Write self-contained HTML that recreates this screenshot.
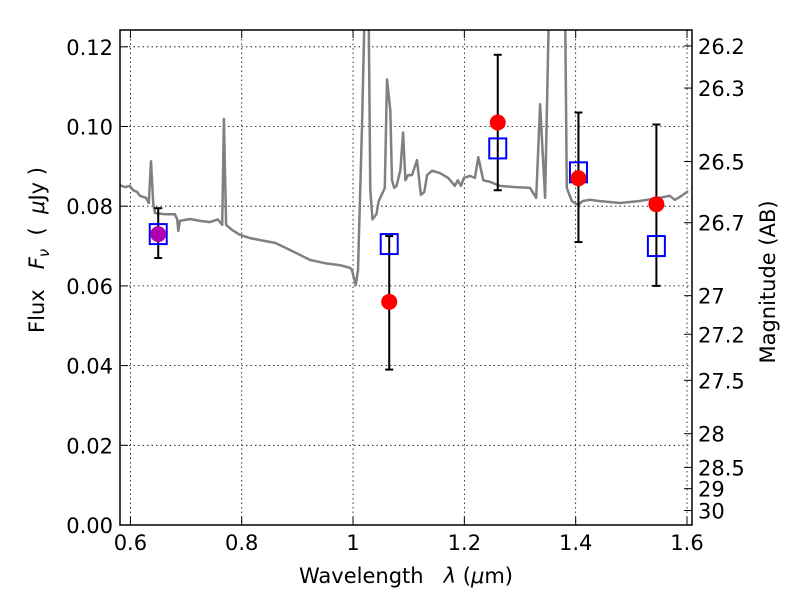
<!DOCTYPE html>
<html><head><meta charset="utf-8"><style>
body{margin:0;background:#fff;}
svg text{font-family:"DejaVu Sans","Liberation Sans",sans-serif;fill:#000;white-space:pre;}
</style></head><body>
<svg id="chart" width="800" height="600" xmlns="http://www.w3.org/2000/svg">
<rect width="800" height="600" fill="#fff"/>
<defs><clipPath id="pc"><rect x="120" y="30" width="572" height="495"/></clipPath></defs>
<g id="grid"></g>
<g id="spec" clip-path="url(#pc)"></g>
<g id="marks"></g>
<rect x="120" y="30" width="572" height="495" fill="none" stroke="#000" stroke-width="1.5"/>
<g id="axes"></g>
<text x="406" y="583" font-size="21" text-anchor="middle">Wavelength&#160;&#160;&#160;<tspan font-style="italic">λ</tspan> (<tspan font-style="italic">μ</tspan>m)</text>
<text transform="translate(44,250) rotate(-90)" font-size="21" text-anchor="middle">Flux&#160;&#160;&#160;<tspan font-style="italic">F</tspan><tspan font-style="italic" font-size="15" dy="5">ν</tspan><tspan dy="-5">&#160;&#160;(&#160;&#160;</tspan><tspan font-style="italic">μ</tspan>Jy&#160;)</text>
<text transform="translate(775,282) rotate(-90)" font-size="21" text-anchor="middle">Magnitude (AB)</text>
</svg>
<script>
const xTicks=[0.6,0.8,1.0,1.2,1.4,1.6];
const xTickLabels=["0.6","0.8","1","1.2","1.4","1.6"];
const yTicks=[0,0.02,0.04,0.06,0.08,0.10,0.12];
const yTickLabels=["0.00","0.02","0.04","0.06","0.08","0.10","0.12"];
const magTicks=[26.2,26.3,26.5,26.7,27,27.2,27.5,28,28.5,29,30];
const magTickLabels=["26.2","26.3","26.5","26.7","27","27.2","27.5","28","28.5","29","30"];
const specWave=[0.581,0.590,0.599,0.605,0.612,0.617,0.628,0.633,0.637,0.641,0.644,0.662,0.680,0.684,0.686,0.689,0.707,0.725,0.743,0.757,0.765,0.768,0.772,0.783,0.797,0.815,0.833,0.860,0.887,0.923,0.950,0.977,0.995,0.998,1.005,1.009,1.016,1.021,1.028,1.031,1.035,1.042,1.046,1.053,1.057,1.061,1.067,1.070,1.074,1.078,1.085,1.090,1.094,1.099,1.106,1.115,1.122,1.128,1.133,1.142,1.156,1.171,1.183,1.188,1.194,1.199,1.210,1.219,1.225,1.234,1.246,1.264,1.291,1.318,1.329,1.336,1.345,1.352,1.381,1.384,1.393,1.404,1.413,1.425,1.442,1.479,1.515,1.551,1.569,1.578,1.587,1.602];
const specFlux=[0.0853,0.0848,0.0851,0.0840,0.0836,0.0826,0.0821,0.0808,0.0913,0.0808,0.0783,0.0780,0.0780,0.0767,0.0738,0.0763,0.0768,0.0763,0.0760,0.0767,0.0753,0.1019,0.0753,0.0740,0.0728,0.0720,0.0715,0.0708,0.0690,0.0665,0.0657,0.0652,0.0645,0.0640,0.0602,0.0640,0.0991,0.13,0.13,0.0841,0.0767,0.0780,0.0812,0.0833,0.0846,0.1118,0.1041,0.0865,0.0846,0.0851,0.0891,0.0985,0.0865,0.0878,0.0878,0.0916,0.0828,0.0836,0.0878,0.0889,0.0883,0.0871,0.0851,0.0865,0.0851,0.0871,0.0876,0.0871,0.0923,0.0865,0.0861,0.0851,0.0848,0.0846,0.0821,0.1056,0.0821,0.13,0.13,0.0846,0.0813,0.0803,0.0813,0.0816,0.0813,0.0808,0.0813,0.0821,0.0826,0.0816,0.0823,0.0838];
const photWave=[0.65,1.065,1.26,1.405,1.545];
const photFlux=[0.073,0.056,0.101,0.087,0.0805];
const errLow=[0.067,0.039,0.084,0.071,0.060];
const errHigh=[0.0795,0.0725,0.118,0.1035,0.1005];
const modelFlux=[0.073,0.0705,0.0945,0.0885,0.070];

const NS="http://www.w3.org/2000/svg";
const X=w=>130.4+(w-0.6)*556.6;
const Y=f=>525-f*3985;
const magToY=m=>Y(Math.pow(10,(23.9-m)/2.5));
function mk(tag,attrs,parent){const e=document.createElementNS(NS,tag);for(const k in attrs)e.setAttribute(k,attrs[k]);parent.appendChild(e);return e;}
const grid=document.getElementById('grid'),axes=document.getElementById('axes'),spec=document.getElementById('spec'),marks=document.getElementById('marks');
xTicks.forEach((t,i)=>{
  const gl=mk('line',{x1:X(t),x2:X(t),y1:30,y2:525,stroke:'#000','stroke-width':0.8,'stroke-dasharray':'1.5,3'},grid);
  
  
  mk('line',{x1:X(t),x2:X(t),y1:525,y2:517,stroke:'#000'},axes);
  mk('line',{x1:X(t),x2:X(t),y1:30,y2:38,stroke:'#000'},axes);
  const tx=mk('text',{x:X(t),y:550,'font-size':21,'text-anchor':'middle'},axes);
  tx.textContent=xTickLabels[i];
  
  
});
yTicks.forEach((t,i)=>{
  if(t>0){const gl=mk('line',{x1:120,x2:692,y1:Y(t),y2:Y(t),stroke:'#000','stroke-width':0.8,'stroke-dasharray':'1.5,3'},grid);
  
  }
  mk('line',{x1:120,x2:128,y1:Y(t),y2:Y(t),stroke:'#000'},axes);
  const tx=mk('text',{x:113,y:Y(t)+8,'font-size':21,'text-anchor':'end'},axes);
  tx.textContent=yTickLabels[i];
  
  
});
magTicks.forEach((m,i)=>{
  const y=magToY(m);
  mk('line',{x1:692,x2:684,y1:y,y2:y,stroke:'#000'},axes);
  const tx=mk('text',{x:698,y:y+8,'font-size':21},axes);
  tx.textContent=magTickLabels[i];
  
  
});
let d='';
specWave.forEach((w,i)=>{d+=(i?'L':'M')+X(w).toFixed(1)+','+Y(specFlux[i]).toFixed(1);});
const sp=mk('path',{d:d,fill:'none',stroke:'#808080','stroke-width':2.5,'stroke-linejoin':'round'},spec);


photWave.forEach((w,i)=>{
  const x=X(w);
  const eb=mk('g',{},marks);
  
  
  mk('line',{x1:x,x2:x,y1:Y(errLow[i]),y2:Y(errHigh[i]),stroke:'#000','stroke-width':2},eb);
  mk('line',{x1:x-4,x2:x+4,y1:Y(errLow[i]),y2:Y(errLow[i]),stroke:'#000','stroke-width':2},eb);
  mk('line',{x1:x-4,x2:x+4,y1:Y(errHigh[i]),y2:Y(errHigh[i]),stroke:'#000','stroke-width':2},eb);
  const sq=mk('rect',{x:x-8.5,y:Y(modelFlux[i])-10,width:17,height:20,fill:'none',stroke:'#0000ff','stroke-width':2},marks);
  
  
  const c=mk('circle',{cx:x,cy:Y(photFlux[i]),r:8,fill:i===0?'#b000b0':'#ff0000'},marks);
  
  
});
</script>
</body></html>
